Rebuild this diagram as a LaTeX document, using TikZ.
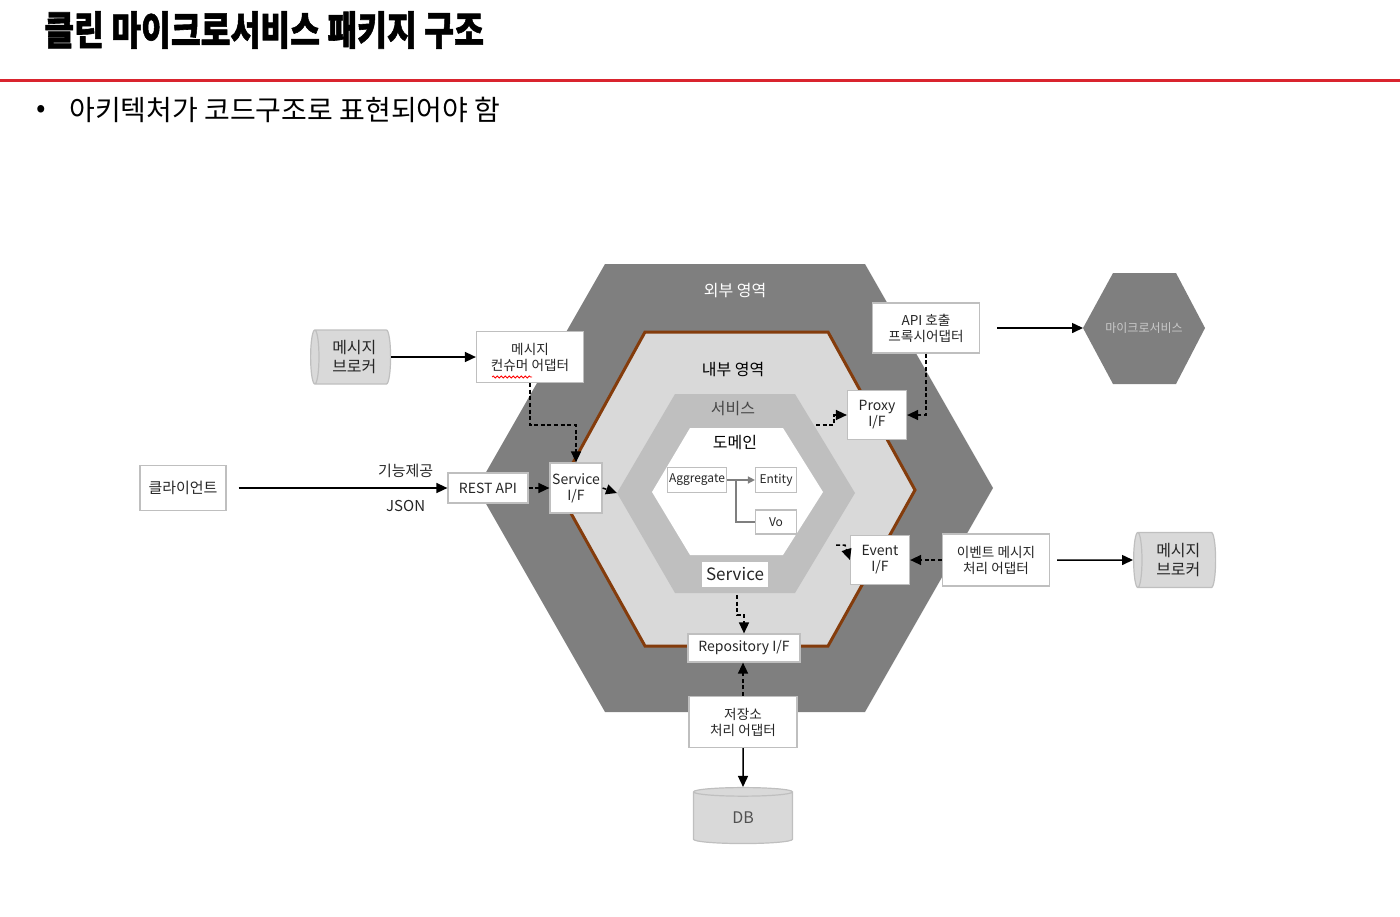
\documentclass[tikz,border=0pt]{standalone}
\usepackage{fontspec}
\setmainfont{Noto Sans CJK KR}
\usetikzlibrary{arrows.meta,positioning,shapes.geometric,decorations.pathmorphing}

\definecolor{outergray}{HTML}{7F7F7F}
\definecolor{innergray}{HTML}{D9D9D9}
\definecolor{svcgray}{HTML}{BFBFBF}
\definecolor{rimbrown}{HTML}{843C0C}
\definecolor{boxline}{HTML}{BFBFBF}
\definecolor{titlered}{HTML}{D9242E}
\definecolor{txt}{HTML}{262626}

\begin{document}
\begin{tikzpicture}[x=0.5pt,y=-0.5pt,
  box/.style={draw=boxline,fill=white,line width=0.6pt,align=center,inner sep=0pt,text=txt,font=\fontsize{6.8}{8}\selectfont},
  drum/.style={cylinder,draw=boxline,fill=innergray,line width=0.6pt,align=center,inner sep=0pt,text=txt,font=\fontsize{8}{9.5}\selectfont},
  link/.style={-{Triangle[length=5.5pt,width=5pt]},line width=0.75pt},
  dashlink/.style={link,dash pattern=on 2pt off 1.3pt},
  ring/.style={font=\fontsize{8}{9.5}\selectfont},
  lbl/.style={inner sep=0pt,text=txt,font=\fontsize{7.5}{9}\selectfont}]

\useasboundingbox (0,0) rectangle (1400,916);

% heading
\node[anchor=west,inner sep=0pt,font=\fontsize{20}{24}\selectfont\bfseries\addfontfeature{FakeBold=1.5},xscale=0.81] (title) at (44,30) {클린 마이크로서비스 패키지 구조};
\draw[titlered,line width=1.5pt] (0,80) -- (1400,80);
\node[font=\fontsize{14}{17}\selectfont] (dot) at (41,111) {•};
\node[anchor=west,inner sep=0pt,font=\fontsize{14}{17}\selectfont] (bullet) at (69,110) {아키텍처가 코드구조로 표현되어야 함};

% hexagon layers
\fill[outergray] (605,264) -- (865,264) -- (993,488) -- (865,712) -- (605,712) -- (477,488) -- cycle;
\filldraw[fill=innergray,draw=rimbrown,line width=1.5pt] (645,332) -- (828,332) -- (915,490) -- (828,646) -- (645,646) -- (558,490) -- cycle;
\fill[svcgray] (675,394) -- (795,394) -- (855,493) -- (795,593) -- (675,593) -- (617,493) -- cycle;
\fill[white] (690,428) -- (783,428) -- (823,492) -- (783,555) -- (690,555) -- (652,492) -- cycle;
\coordinate (svcW) at (617,493);
\coordinate (svcNE) at (816,425);
\coordinate (svcSE) at (836,545);
\coordinate (svcS) at (737,595);

\node[text=white,ring] (outerlbl) at (735,291) {외부 영역};
\node[text=black,ring] (innerlbl) at (733,369) {내부 영역};
\node[text=txt!85,ring] (svclbl) at (733,409) {서비스};
\node[text=black,ring] (domlbl) at (735,442) {도메인};

% domain
\node[box,minimum width=29.5pt,minimum height=12.5pt,font=\fontsize{6}{7}\selectfont] (agg) at (697,480) {Aggregate};
\node[box,minimum width=20.5pt,minimum height=12.5pt,font=\fontsize{6}{7}\selectfont] (entity) at (776,480) {Entity};
\node[box,minimum width=20.5pt,minimum height=12pt,font=\fontsize{6}{7}\selectfont] (vo) at (776,522) {Vo};
\node[fill=white,inner sep=0pt,minimum width=33pt,minimum height=12.5pt,text=txt,font=\fontsize{8.5}{10}\selectfont] (svcbox) at (735,574) {Service};
\draw[-{Triangle[length=3.5pt,width=3.5pt]},outergray,line width=0.75pt] (agg.east) -- (entity.west);
\draw[outergray,line width=0.75pt] (agg.east) -- ++(9,0) |- (vo.west);

% ports and adapters
\node[box,minimum width=43pt,minimum height=22.5pt,font=\fontsize{7.5}{9}\selectfont] (client) at (183,488) {클라이언트};
\node[box,minimum width=40pt,minimum height=15pt,font=\fontsize{7}{8}\selectfont] (restapi) at (488,488) {REST API};
\node[box,minimum width=26pt,minimum height=25pt,font=\fontsize{7}{8}\selectfont] (svcif) at (576,488) {Service\\I/F};
\node[box,minimum width=53.5pt,minimum height=25.5pt] (consumer) at (530,357) {메시지\\컨슈머 어댑터};
\draw[red,line width=0.4pt,decorate,decoration={snake,amplitude=0.5pt,segment length=2pt}] (492,377) -- (532,377);
\node[box,minimum width=53.5pt,minimum height=25pt] (proxyad) at (926,328) {API 호출\\프록시어댑터};
\node[box,minimum width=29.5pt,minimum height=24.5pt,font=\fontsize{7}{8}\selectfont] (proxyif) at (877,415) {Proxy\\I/F};
\node[box,minimum width=29.5pt,minimum height=24.5pt,font=\fontsize{7}{8}\selectfont] (eventif) at (880,560) {Event\\I/F};
\node[box,minimum width=53.5pt,minimum height=26pt] (eventad) at (996,560) {이벤트 메시지\\처리 어댑터};
\node[box,minimum width=56pt,minimum height=14pt,font=\fontsize{7}{8}\selectfont] (repoif) at (744,648) {Repository I/F};
\node[box,minimum width=54pt,minimum height=25.5pt] (storead) at (743,722) {저장소\\처리 어댑터};
\node[drum,shape border rotate=90,aspect=0.4,minimum width=49.5pt,minimum height=28pt,text=txt!80] (db) at (743,818) {DB};
\node[drum,shape border rotate=180,aspect=0.25,minimum width=27pt,minimum height=40pt] (brokerL) at (353,357) {\,메시지\\\,브로커};
\node[drum,shape border rotate=180,aspect=0.25,minimum width=27.5pt,minimum height=41pt] (brokerR) at (1177,560) {\,메시지\\\,브로커};

% other microservice
\fill[outergray] (1113,273) -- (1176,273) -- (1205,328) -- (1176,384) -- (1113,384) -- (1083,328) -- cycle;
\coordinate (msvcW) at (1083,328);
\node[text=svcgray!85!white,font=\fontsize{6}{7}\selectfont] (msvc) at (1144,328) {마이크로서비스};

% connectors
\draw[link] ([xshift=6pt]client.east) -- node[pos=0.8,above=5pt,lbl]{기능제공} node[pos=0.8,below=6pt,lbl]{JSON} (restapi.west);
\draw[link] (brokerL.east) -- (consumer.west);
\draw[link] ([xshift=8.5pt]proxyad.east) -- (msvcW);
\draw[link] ([xshift=3.5pt]eventad.east) -- (brokerR.west);
\draw[link] (storead.south) -- (db.north);

\draw[dashlink] (consumer.south) -- ++(0,42) -| (svcif.north);
\draw[dashlink] (restapi.east) -- (svcif.west);
\draw[dashlink] (svcif.east) -- (svcW);
\draw[dashlink] (svcNE) -- ++(18,0) |- (proxyif.west);
\draw[dashlink] (proxyad.south) |- (proxyif.east);
\draw[dashlink] (svcSE) -- ++(9,0) -- (eventif.west);
\draw[dashlink] (eventad.west) -- (eventif.east);
\draw[dashlink] (svcS) -- ++(0,20) -| (repoif.north);
\draw[dashlink] (storead.north) -- (storead.north |- repoif.south);
\end{tikzpicture}
\end{document}
